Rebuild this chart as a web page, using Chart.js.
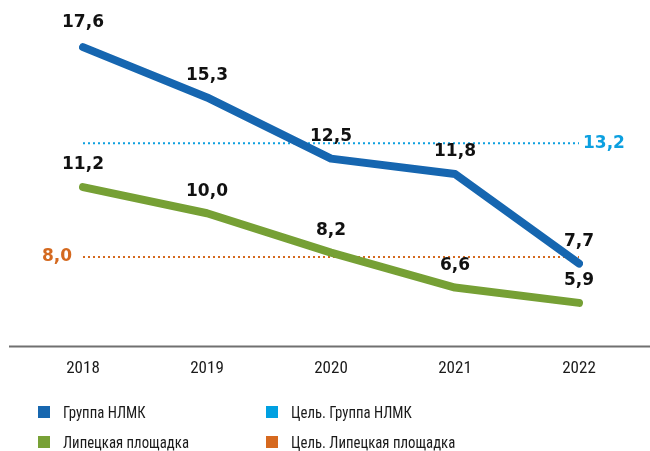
<!DOCTYPE html>
<html><head><meta charset="utf-8">
<script src="https://cdn.jsdelivr.net/npm/chart.js@4/dist/chart.umd.min.js"></script>
<style>
body{margin:0;background:#fff}
#wrap{position:relative;width:650px;height:451px}
canvas{display:block}
.leg{position:absolute;display:flex;align-items:center;font-family:"Roboto Condensed","Liberation Sans Narrow","DejaVu Sans Condensed",sans-serif;font-size:17px;color:#1a1a1a;white-space:nowrap}
.leg i{display:inline-block;width:12px;height:12px;margin-right:13px}
.leg span{display:inline-block;transform:scaleX(0.87);transform-origin:left center}
</style></head>
<body><div id="wrap"><canvas id="c" width="650" height="451"></canvas>
<div class="leg" style="left:38px;top:402px"><i style="background:#1767AF"></i><span>Группа НЛМК</span></div>
<div class="leg" style="left:266px;top:402px"><i style="background:#00A0E1"></i><span>Цель. Группа НЛМК</span></div>
<div class="leg" style="left:38px;top:432px"><i style="background:#78A136"></i><span>Липецкая площадка</span></div>
<div class="leg" style="left:266px;top:432px"><i style="background:#D6691F"></i><span>Цель. Липецкая площадка</span></div>
</div>
<script>
const years = ["2018","2019","2020","2021","2022"];
const groupNLMK = [17.6, 15.3, 12.5, 11.8, 7.7];
const lipetsk = [11.2, 10.0, 8.2, 6.6, 5.9];
const targetGroup = [13.2, 13.2, 13.2, 13.2, 13.2];
const targetLipetsk = [8.0, 8.0, 8.0, 8.0, 8.0];
const fmt = v => v.toFixed(1).replace('.', ',');

const labelPlugin = {
  id: 'labels',
  beforeDatasetsDraw(chart) {
    const ctx = chart.ctx, a = chart.chartArea;
    ctx.save();
    ctx.strokeStyle = '#707070'; ctx.lineWidth = 2;
    ctx.beginPath(); ctx.moveTo(9, a.bottom); ctx.lineTo(650, a.bottom); ctx.stroke();
    ctx.restore();
  },
  afterDatasetsDraw(chart) {
    const ctx = chart.ctx;
    ctx.save();
    ctx.font = 'bold 17px "DejaVu Sans"';
    ctx.textBaseline = 'middle';
    [0,1].forEach(di => {
      const meta = chart.getDatasetMeta(di);
      const data = chart.data.datasets[di].data;
      ctx.fillStyle = '#111'; ctx.textAlign = 'center';
      meta.data.forEach((p, i) => {
        const off = (di === 0 && i === 0) ? 25 : 22;
        ctx.fillText(fmt(data[i]), p.x, p.y - off);
      });
    });
    const m2 = chart.getDatasetMeta(2), d2 = chart.data.datasets[2].data;
    const last = m2.data[m2.data.length - 1];
    ctx.fillStyle = '#0CA0E0'; ctx.textAlign = 'left';
    ctx.fillText(fmt(d2[d2.length - 1]), last.x + 4, last.y);
    const m3 = chart.getDatasetMeta(3), d3 = chart.data.datasets[3].data;
    const first = m3.data[0];
    ctx.fillStyle = '#D4691F'; ctx.textAlign = 'right';
    ctx.fillText(fmt(d3[0]), first.x - 11, first.y);
    ctx.restore();
  }
};

new Chart(document.getElementById('c'), {
  type: 'line',
  data: {
    labels: years,
    datasets: [
      {label:'Группа НЛМК', data: groupNLMK, borderColor:'#1666B0', borderWidth:8, borderCapStyle:'round', borderJoinStyle:'round', pointRadius:0, tension:0, order:1},
      {label:'Липецкая площадка', data: lipetsk, borderColor:'#76A035', borderWidth:8, borderCapStyle:'round', borderJoinStyle:'round', pointRadius:0, tension:0, order:1},
      {label:'Цель. Группа НЛМК', data: targetGroup, borderColor:'#0CA0E0', borderWidth:2, borderDash:[2,3], pointRadius:0, order:2},
      {label:'Цель. Липецкая площадка', data: targetLipetsk, borderColor:'#D4691F', borderWidth:2, borderDash:[2,3], pointRadius:0, order:2}
    ]
  },
  options: {
    responsive: false,
    devicePixelRatio: 1,
    animation: false,
    layout: { padding: { left: 83, right: 71, top: 10, bottom: 60 } },
    plugins: { legend: { display: false }, tooltip: { enabled: false } },
    scales: {
      x: {
        offset: false,
        grid: { display: false, drawTicks: false },
        border: { display: false },
        ticks: { padding: 12, color: '#1a1a1a', font: { family: '"Roboto Condensed","Liberation Sans Narrow","DejaVu Sans Condensed",sans-serif', size: 17 } }
      },
      y: { display: false, min: 3.9, max: 19.3 }
    }
  },
  plugins: [labelPlugin]
});
</script>
</body></html>
